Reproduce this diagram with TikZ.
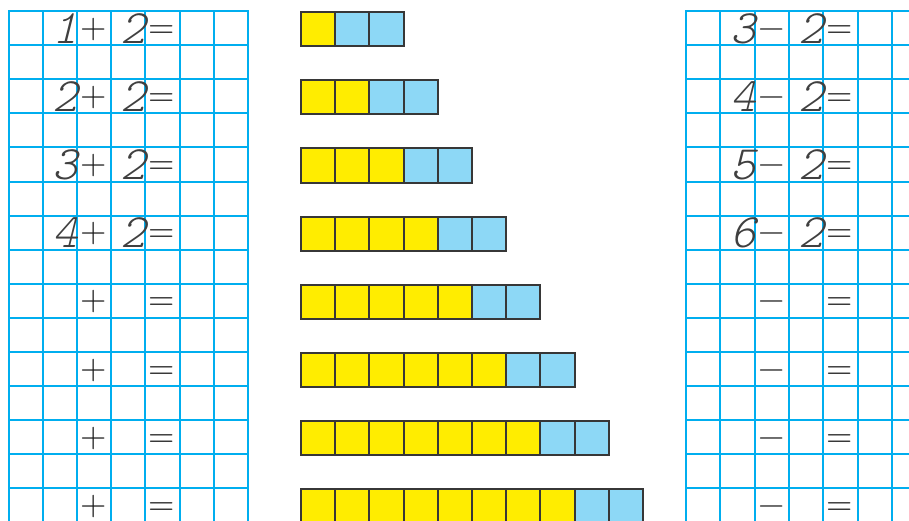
\documentclass[tikz,border=0pt]{standalone}
\usepackage{fontspec}
\usepackage{xcolor}
\usepackage{tikz}
\newfontfamily\handfont[FakeSlant=0.25]{lmmonolt10-regular.otf}
\definecolor{gridblue}{RGB}{0,174,239}
\definecolor{cubeyellow}{RGB}{255,237,0}
\definecolor{cubeblue}{RGB}{141,216,246}
\definecolor{cubeedge}{RGB}{55,55,55}

\begin{document}
\begin{tikzpicture}[x=1pt, y=-1pt,
  gridline/.style={draw=gridblue, line width=2pt, line cap=rect},
  cube/.style={draw=cubeedge, line width=2pt, minimum size=34.2pt, inner sep=0pt, anchor=north west},
  ycube/.style={cube, fill=cubeyellow},
  bcube/.style={cube, fill=cubeblue},
  digit/.style={anchor=base east, inner sep=0pt, text=black!75, font=\fontsize{48}{48}\handfont},
  sign/.style={anchor=base, inner sep=0pt, text=black!90, font=\fontsize{36}{36}\sffamily}
]
  \useasboundingbox (0,0) rectangle (909,520);
  \clip (0,0) rectangle (909,520);
  % left grid
  \foreach \i in {0,...,7}
    \draw[gridline] (8.5+34.2*\i,11) -- (8.5+34.2*\i,560);
  \foreach \j in {0,...,15}
    \draw[gridline] (8.5,11+34.1*\j) -- (248,11+34.1*\j);
  % right grid
  \foreach \i in {0,...,7}
    \draw[gridline] (686+34.3*\i,11) -- (686+34.3*\i,560);
  \foreach \j in {0,...,15}
    \draw[gridline] (686,11+34.1*\j) -- (940,11+34.1*\j);
  % bars of cubes
  \foreach \n in {1,...,8}{
    \pgfmathtruncatemacro\last{\n+2}
    \foreach \k in {1,...,\last}{
      \ifnum\k>\n \def\kind{bcube}\else\def\kind{ycube}\fi
      \node[\kind] (cube-\n-\k) at (300+34.2*\k-34.2,11+68.2*\n-68.2) {};
    }
  }
  % sums
  \foreach \a [count=\r from 0] in {1,2,3,4}{
    \node[digit] (la-\r) at (78,43+68.2*\r) {\a};
    \node[digit] (lb-\r) at (146,43+68.2*\r) {2};
  }
  \foreach \r in {0,...,7}{
    \node[sign] (lplus-\r) at (94,38+68.2*\r) {+};
    \node[sign] (leq-\r) at (162,38+68.2*\r) {=};
  }
  % differences
  \foreach \a [count=\r from 0] in {3,4,5,6}{
    \node[digit] (ra-\r) at (756,43+68.2*\r) {\a};
    \node[digit] (rb-\r) at (824,43+68.2*\r) {2};
  }
  \foreach \r in {0,...,7}{
    \node[sign] (rminus-\r) at (772,38+68.2*\r) {−};
    \node[sign] (req-\r) at (840,38+68.2*\r) {=};
  }
\end{tikzpicture}
\end{document}
